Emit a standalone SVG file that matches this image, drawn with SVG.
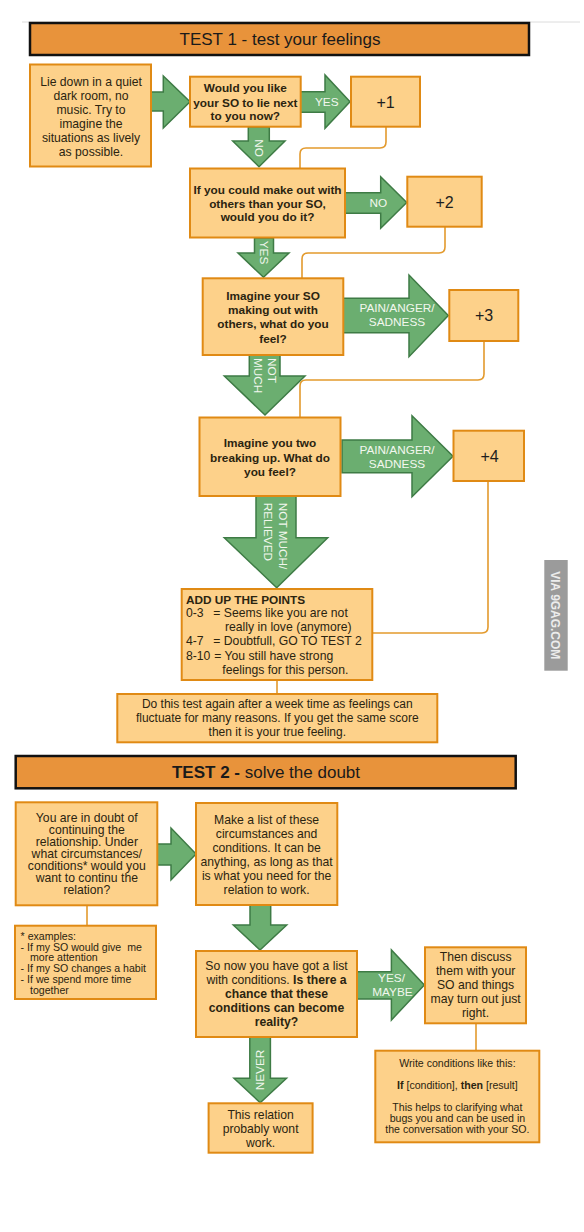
<svg xmlns="http://www.w3.org/2000/svg" width="584" height="1232" viewBox="0 0 584 1232">
<style>
.box{fill:#FDD18A;stroke:#E08A14;stroke-width:2}
.hdr{fill:#E8933B;stroke:#111;stroke-width:2.5}
.arw{fill:#6BAE70;stroke:#3E7B45;stroke-width:1.5;stroke-linejoin:miter}
.ln{fill:none;stroke:#E39A2D;stroke-width:1.6}
text{font-family:"Liberation Sans",Arial,sans-serif;fill:#2b2410}
.t{font-size:12.2px;text-anchor:middle}
.b{font-size:11.8px;font-weight:bold;text-anchor:middle}
.n{font-size:16px;text-anchor:middle;fill:#1e1e1e}
.w{font-size:11.8px;fill:#F2F7EE;text-anchor:middle}
.ws{font-size:11.8px;fill:#F2F7EE}
.s{font-size:10.6px}
.h{font-size:17px;text-anchor:middle;fill:#1a1a1a}
</style>
<rect width="584" height="1232" fill="#fff"/>
<line x1="22" y1="22" x2="580" y2="22" stroke="#dcdcdc" stroke-width="1"/>

<g id="connectors">
<polygon class="arw" points="151,92 163.3,92 163.3,76 190,101.7 163.3,128 163.3,111 151,111"/>
<polygon class="arw" points="300,91.7 325,91.7 325,75 350,101.7 325,128.3 325,112.3 300,112.3"/>
<polygon class="arw" points="345,192.7 380.7,192.7 380.7,176.7 406.7,202.5 380.7,228.3 380.7,213.3 345,213.3"/>
<polygon class="arw" points="343,298.3 409,298.3 409,275 448.3,315.5 409,356.7 409,332.7 343,332.7"/>
<polygon class="arw" points="342,440 412,440 412,415.7 453,456.3 412,496.7 412,472.7 342,472.7"/>
<polygon class="arw" points="157,844 171,844 171,828 196,854 171,880 171,865 157,865"/>
<polygon class="arw" points="357,971.7 391.4,971.7 391.4,950 424.3,985 391.4,1020 391.4,999 357,999"/>
<polygon class="arw" points="248.3,127 269.3,127 269.3,141 285,141 259,166.7 232.7,141 248.3,141"/>
<polygon class="arw" points="254.5,238 273.5,238 273.5,253 289,253 263.5,277.3 238,253 254.5,253"/>
<polygon class="arw" points="249.3,355 280,355 280,376 305,376 265,415 224.3,376 249.3,376"/>
<polygon class="arw" points="256,496 296,496 296,537.7 327.7,537.7 276.7,587.7 224.3,537.7 256,537.7"/>
<polygon class="arw" points="250,905 270.7,905 270.7,925 286.7,925 260,950 233.3,925 250,925"/>
<polygon class="arw" points="249.8,1037 270.4,1037 270.4,1078.3 286.5,1078.3 260.2,1102.7 234,1078.3 249.8,1078.3"/>
<path class="ln" d="M386,127 V142 Q386,148 380,148 H306 Q300,148 300,154 V169"/>
<path class="ln" d="M445,227 V247 Q445,253 439,253 H308 Q302,253 302,259 V279"/>
<path class="ln" d="M484,341 V374 Q484,380 478,380 H306 Q300,380 300,386 V418"/>
<path class="ln" d="M488,481 V627 Q488,633 482,633 H372"/>
<path class="ln" d="M277,680 V694"/>
<path class="ln" d="M87,905 V926"/>
<path class="ln" d="M476,1023 V1051"/>
<text class="w" x="326.7" y="106">YES</text>
<text class="w" x="378.3" y="207">NO</text>
<text class="w" x="397" y="312">PAIN/ANGER/</text>
<text class="w" x="397" y="326">SADNESS</text>
<text class="w" x="397" y="453.5">PAIN/ANGER/</text>
<text class="w" x="397" y="467.5">SADNESS</text>
<text class="w" x="391.5" y="982.3">YES/</text>
<text class="w" x="392.5" y="996">MAYBE</text>
<text class="w" transform="translate(259.5,148) rotate(90)" x="0" y="4.3">NO</text>
<text class="w" transform="translate(264,252.5) rotate(90)" x="0" y="4.3">YES</text>
<g transform="translate(265.5,358) rotate(90)">
<text class="ws" x="0" y="-2.9">NOT</text>
<text class="ws" x="0" y="11.5">MUCH</text>
</g>
<g transform="translate(275.8,502.7) rotate(90)">
<text class="ws" x="0" y="-3.2">NOT MUCH/</text>
<text class="ws" x="0" y="11.8">RELIEVED</text>
</g>
<text class="w" transform="translate(259.8,1070) rotate(-90)" x="0" y="4.3">NEVER</text>
</g>

<g id="header1">
<rect class="hdr" x="30" y="23" width="499" height="32"/>
<text class="h" x="280" y="45.2">TEST 1 - test your feelings</text>
</g>

<g id="lie">
<rect class="box" x="30" y="64.5" width="121" height="102"/>
<text class="t" x="91"><tspan x="91" y="85.5">Lie down in a quiet</tspan><tspan x="91" y="99.5">dark room, no</tspan><tspan x="91" y="113.5">music. Try to</tspan><tspan x="91" y="127.5">imagine the</tspan><tspan x="91" y="141.5">situations as lively</tspan><tspan x="91" y="155.5">as possible.</tspan></text>
</g>

<g id="q1">
<rect class="box" x="190" y="76.7" width="110.7" height="50"/>
<text class="b"><tspan x="245.3" y="92.3">Would you like</tspan><tspan x="245.3" y="106.5">your SO to lie next</tspan><tspan x="245.3" y="120.3">to you now?</tspan></text>
</g>

<g id="p1">
<rect class="box" x="351" y="76.7" width="69" height="50"/>
<text class="n" x="385.5" y="107.5">+1</text>
</g>

<g id="q2">
<rect class="box" x="190" y="168.5" width="155" height="69"/>
<text class="b"><tspan x="267.5" y="193.7">If you could make out with</tspan><tspan x="267.5" y="207.7">others than your SO,</tspan><tspan x="267.5" y="221.2">would you do it?</tspan></text>
</g>

<g id="p2">
<rect class="box" x="407.3" y="176.7" width="74.4" height="50"/>
<text class="n" x="444.5" y="207.5">+2</text>
</g>

<g id="q3">
<rect class="box" x="202.7" y="278.3" width="140.6" height="76.7"/>
<text class="b"><tspan x="273" y="300">Imagine your SO</tspan><tspan x="273" y="314.4">making out with</tspan><tspan x="273" y="328.4">others, what do you</tspan><tspan x="273" y="343">feel?</tspan></text>
</g>

<g id="p3">
<rect class="box" x="449.3" y="290" width="69" height="51"/>
<text class="n" x="484" y="321.3">+3</text>
</g>

<g id="q4">
<rect class="box" x="199.5" y="417.5" width="141" height="78.5"/>
<text class="b"><tspan x="270" y="447">Imagine you two</tspan><tspan x="270" y="461.6">breaking up. What do</tspan><tspan x="270" y="475.6">you feel?</tspan></text>
</g>

<g id="p4">
<rect class="box" x="453.5" y="430.7" width="70.5" height="50.3"/>
<text class="n" x="489.5" y="461.8">+4</text>
</g>

<g id="addup">
<rect class="box" x="181.7" y="589" width="190.6" height="91"/>
<text style="font-size:11.8px;font-weight:bold" x="186" y="603.5">ADD UP THE POINTS</text>
<text style="font-size:12.2px">
<tspan x="186" y="617.3">0-3</tspan><tspan x="213.3" y="617.3">= Seems like you are not</tspan>
<tspan x="225" y="631.3">really in love (anymore)</tspan>
<tspan x="186" y="645.3">4-7</tspan><tspan x="213.3" y="645.3">= Doubtfull, GO TO TEST 2</tspan>
<tspan x="186" y="659.5">8-10</tspan><tspan x="214.3" y="659.5">= You still have strong</tspan>
<tspan x="222.3" y="673.8">feelings for this person.</tspan>
</text>
</g>

<g id="retest">
<rect class="box" x="117.3" y="694" width="320" height="48.3"/>
<text class="t" style="font-size:12px"><tspan x="277.3" y="708.4">Do this test again after a week time as feelings can</tspan><tspan x="277.3" y="722.2">fluctuate for many reasons. If you get the same score</tspan><tspan x="277.3" y="736">then it is your true feeling.</tspan></text>
</g>

<g id="via">
<rect x="544.3" y="560" width="23.4" height="110.7" fill="#9b9b9b"/>
<text transform="translate(556,615.3) rotate(90)" x="0" y="4.8" text-anchor="middle" style="font-size:13.5px;font-weight:bold;fill:#ececec" textLength="88" lengthAdjust="spacingAndGlyphs">VIA 9GAG.COM</text>
</g>

<g id="header2">
<rect class="hdr" x="15.7" y="756" width="500" height="32.3"/>
<text class="h" x="266" y="777.9"><tspan font-weight="bold">TEST 2 -</tspan> solve the doubt</text>
</g>

<g id="doubt">
<rect class="box" x="15.7" y="802.3" width="141.6" height="103"/>
<text class="t"><tspan x="86.8" y="822">You are in doubt of</tspan><tspan x="86.8" y="834">continuing the</tspan><tspan x="86.8" y="846">relationship. Under</tspan><tspan x="86.8" y="858">what circumstances/</tspan><tspan x="86.8" y="870">conditions* would you</tspan><tspan x="86.8" y="882">want to continu the</tspan><tspan x="86.8" y="894">relation?</tspan></text>
</g>

<g id="makelist">
<rect class="box" x="196" y="803" width="141.3" height="102"/>
<text class="t"><tspan x="266.6" y="823.7">Make a list of these</tspan><tspan x="266.6" y="837.7">circumstances and</tspan><tspan x="266.6" y="851.7">conditions. It can be</tspan><tspan x="266.6" y="865.5">anything, as long as that</tspan><tspan x="266.6" y="879.7">is what you need for the</tspan><tspan x="266.6" y="893.7">relation to work.</tspan></text>
</g>

<g id="examples">
<rect class="box" x="15" y="925.7" width="141" height="73.3"/>
<text class="s" xml:space="preserve"><tspan x="20.6" y="939.5">* examples:</tspan><tspan x="20.6" y="950.5">- If my SO would give  me</tspan><tspan x="30" y="961.2">more attention</tspan><tspan x="20.6" y="972.2">- If my SO changes a habit</tspan><tspan x="20.6" y="983.2">- If we spend more time</tspan><tspan x="30" y="994.2">together</tspan></text>
</g>

<g id="sonow">
<rect class="box" x="196" y="951" width="161" height="86"/>
<text class="t"><tspan x="276.5" y="970">So now you have got a list</tspan><tspan x="276.5" y="984.3">with conditions. <tspan font-weight="bold">Is there a</tspan></tspan><tspan x="276.5" y="998.3" font-weight="bold">chance that these</tspan><tspan x="276.5" y="1012" font-weight="bold">conditions can become</tspan><tspan x="276.5" y="1026" font-weight="bold">reality?</tspan></text>
</g>

<g id="discuss">
<rect class="box" x="425" y="947.3" width="101" height="76"/>
<text class="t"><tspan x="475.6" y="961">Then discuss</tspan><tspan x="475.6" y="975">them with your</tspan><tspan x="475.6" y="989">SO and things</tspan><tspan x="475.6" y="1003.3">may turn out just</tspan><tspan x="475.6" y="1017">right.</tspan></text>
</g>

<g id="write">
<rect class="box" x="375.3" y="1050.7" width="164" height="91.6"/>
<text class="s" text-anchor="middle"><tspan x="457.4" y="1067.2">Write conditions like this:</tspan><tspan x="457.4" y="1089"><tspan font-weight="bold">If</tspan> [condition], <tspan font-weight="bold">then</tspan> [result]</tspan><tspan x="457.4" y="1111.2">This helps to clarifying what</tspan><tspan x="457.4" y="1122.2">bugs you and can be used in</tspan><tspan x="457.4" y="1133.2">the conversation with your SO.</tspan></text>
</g>

<g id="nowork">
<rect class="box" x="208.6" y="1103.3" width="104" height="49.4"/>
<text class="t"><tspan x="260.6" y="1118.6">This relation</tspan><tspan x="260.6" y="1133.2">probably wont</tspan><tspan x="260.6" y="1147">work.</tspan></text>
</g>
</svg>
